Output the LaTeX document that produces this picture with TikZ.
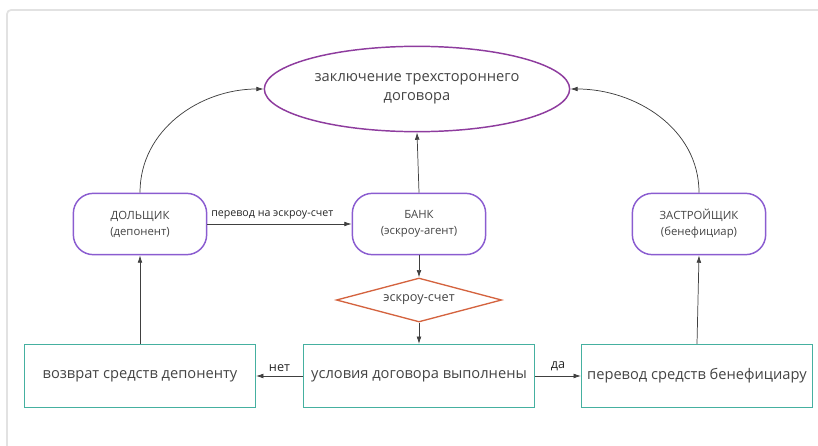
\documentclass[tikz,border=0pt]{standalone}
\usepackage{fontspec}
\setmainfont{Open Sans}
\usetikzlibrary{shapes.geometric, arrows.meta}
\definecolor{ovalline}{HTML}{8E3C9E}
\definecolor{partyline}{HTML}{8A5CD0}
\definecolor{escrowline}{HTML}{D4633F}
\definecolor{stepline}{HTML}{45B0A0}
\definecolor{textgray}{HTML}{444444}
\definecolor{framegray}{HTML}{E2E2E2}
\begin{document}
\begin{tikzpicture} [>={Latex[length=5.5pt, width=3.6pt]}, x=0.75pt, y=-0.75pt,
	oval/.style={ellipse, draw=ovalline, line width=1.1pt, minimum width=229pt, minimum height=64pt, align=center, text=textgray, font=\fontsize{11}{14}\selectfont},
	party/.style={rounded corners=15pt, draw=partyline, line width=1.1pt, minimum width=100pt, minimum height=46pt, align=center, text=textgray, font=\fontsize{8.5}{12}\selectfont},
	escrow/.style={diamond, draw=escrowline, line width=1pt, aspect=3.8, inner sep=2pt, minimum width=124pt, minimum height=33pt, text=textgray, font=\fontsize{9.5}{11}\selectfont},
	stepbox/.style={draw=stepline, line width=1.1pt, minimum width=173pt, minimum height=47pt, text=textgray, font=\fontsize{11}{13}\selectfont},
	link/.style={->, draw=black!75, line width=0.55pt},
	linklabel/.style={above, text=black!85, font=\fontsize{8}{10}\selectfont}]
	\useasboundingbox (0,0) rectangle (818,446);
	%%% Cornice
	\draw[framegray, line width=1.3pt, rounded corners=3pt] (7,446) -- (7,10) -- (818,10);
	%%% Contratto
	\node[oval] (contract) at (417,89) {заключение трехстороннего\\договора};
	%%% Parti
	\node[party] (holder) at (140,224) {ДОЛЬЩИК\\(депонент)};
	\node[party] (bank) at (419,224) {БАНК\\(эскроу-агент)};
	\node[party] (builder) at (699,224) {ЗАСТРОЙЩИК\\(бенефициар)};
	%%% Conto
	\node[escrow] (account) at (419,300) {эскроу-счет};
	%%% Esiti
	\node[stepbox] (terms) at (419,376) {условия договора выполнены};
	\node[stepbox] (refund) at (140,376) {возврат средств депоненту};
	\node[stepbox] (payout) at (697,376) {перевод средств бенефициару};
	%%% Frecce alte
	\draw[link] (holder.north) to[out=90, in=180] (contract.west);
	\draw[link] (builder.north) to[out=90, in=0] (contract.east);
	\draw[link] (bank.north) -- (contract.south);
	\draw[link] (holder.east) -- (bank.west) node [pos=0.45, linklabel] {перевод на эскроу-счет};
	%%% Frecce centrali
	\draw[link] (bank.south) -- (account.north);
	\draw[link] (account.south) -- (terms.north);
	%%% Frecce basse
	\draw[link] (terms.west) -- (refund.east) node [pos=0.5, linklabel, font=\fontsize{9.5}{11}\selectfont] {нет};
	\draw[link] (terms.east) -- (payout.west) node [pos=0.5, linklabel, font=\fontsize{9.5}{11}\selectfont] {да};
	\draw[link] (refund.north) -- (holder.south);
	\draw[link] (payout.north) -- (builder.south);
\end{tikzpicture}
\end{document}
